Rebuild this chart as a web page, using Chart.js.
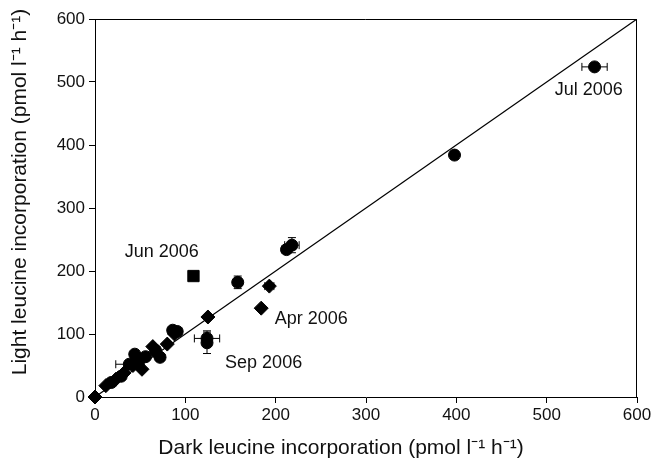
<!DOCTYPE html>
<html>
<head>
<meta charset="utf-8">
<script src="https://cdn.jsdelivr.net/npm/chart.js@4"></script>
<style>
  html, body { margin: 0; padding: 0; background: #fff; }
  #wrap { width: 654px; height: 465px; }
</style>
</head>
<body>
<div id="wrap"><canvas id="leucineChart" width="654" height="465"></canvas></div>
<script>
// Leucina: incorporación en luz vs oscuridad

const darkX  = [0, 12, 18, 23, 29, 32, 38, 42, 44, 46, 48, 52, 56, 64, 67, 70, 72, 80, 86, 88, 91, 109, 125, 124, 124, 158, 184, 193, 212, 218, 398, 553];
const lightY = [0, 18, 23, 28, 33, 38, 52, 50, 68, 56, 53, 44, 64, 80, 74, 67, 63, 84, 106, 100, 104, 192, 127, 93, 86, 182, 141, 176, 234, 241, 384, 524];
const xErr   = [0, 0, 0, 0, 0, 0, 15, 0, 0, 0, 0, 0, 0, 0, 0, 0, 0, 0, 0, 0, 5, 4, 0, 14, 0, 0, 0, 5, 5, 8, 4, 14];
const yErr   = [0, 0, 0, 0, 0, 0, 0, 0, 0, 0, 0, 0, 0, 0, 0, 0, 0, 0, 0, 0, 0, 4, 0, 12, 17, 10, 0, 0, 0, 12, 6, 6];
const shapes = ['rectRot', 'rectRot', 'circle', 'rectRot', 'circle', 'rectRot', 'circle', 'rectRot', 'circle', 'rectRot', 'circle', 'rectRot', 'circle', 'rectRot', 'circle', 'rectRot', 'circle', 'rectRot', 'circle', 'rectRot', 'circle', 'rect', 'rectRot', 'circle', 'circle', 'circle', 'rectRot', 'rectRot', 'circle', 'circle', 'circle', 'circle'];

const lineX = [0, 600];

const axisTicks = [0, 100, 200, 300, 400, 500, 600];

const notes = [
    { text: 'Jun 2006', x: 33, y: 230 },
    { text: 'Apr 2006', x: 199, y: 124 },
    { text: 'Sep 2006', x: 144, y: 54 },
    { text: 'Jul 2006', x: 509, y: 487 }
];

const FONT = '"Liberation Sans", Arial, Helvetica, sans-serif';

const points = darkX.map((x, i) => ({ x: x, y: lightY[i], xe: xErr[i], ye: yErr[i] }));

// barras de error + marco + textos
const extrasPlugin = {
    id: 'extras',
    beforeDatasetsDraw(chart) {
        const { ctx, scales: { x, y } } = chart;
        ctx.save();
        ctx.strokeStyle = '#000';
        ctx.lineWidth = 1;
        const cap = 4;
        points.forEach(p => {
            const px = x.getPixelForValue(p.x);
            const py = y.getPixelForValue(p.y);
            ctx.beginPath();
            if (p.xe > 0) {
                const l = x.getPixelForValue(p.x - p.xe);
                const r = x.getPixelForValue(p.x + p.xe);
                ctx.moveTo(l, py); ctx.lineTo(r, py);
                ctx.moveTo(l, py - cap); ctx.lineTo(l, py + cap);
                ctx.moveTo(r, py - cap); ctx.lineTo(r, py + cap);
            }
            if (p.ye > 0) {
                const t = y.getPixelForValue(p.y + p.ye);
                const b = y.getPixelForValue(p.y - p.ye);
                ctx.moveTo(px, t); ctx.lineTo(px, b);
                ctx.moveTo(px - cap, t); ctx.lineTo(px + cap, t);
                ctx.moveTo(px - cap, b); ctx.lineTo(px + cap, b);
            }
            ctx.stroke();
        });
        ctx.restore();
    },
    afterDraw(chart) {
        const { ctx, chartArea: a, scales: { x, y } } = chart;
        ctx.save();
        // marco superior y derecho
        ctx.strokeStyle = '#000';
        ctx.lineWidth = 1;
        ctx.beginPath();
        ctx.moveTo(a.left, a.top + 0.5);
        ctx.lineTo(a.right - 0.5, a.top + 0.5);
        ctx.lineTo(a.right - 0.5, a.bottom);
        ctx.stroke();

        // anotaciones
        ctx.fillStyle = '#111';
        ctx.font = '18px ' + FONT;
        ctx.textAlign = 'left';
        ctx.textBaseline = 'middle';
        notes.forEach(n => {
            ctx.fillText(n.text, x.getPixelForValue(n.x), y.getPixelForValue(n.y));
        });

        // títulos de ejes
        ctx.font = '21px ' + FONT;
        ctx.textAlign = 'center';
        ctx.fillText('Dark leucine incorporation (pmol l\u207B\u00B9 h\u207B\u00B9)', 341, 448);
        ctx.translate(20, 192);
        ctx.rotate(-Math.PI / 2);
        ctx.fillText('Light leucine incorporation (pmol l\u207B\u00B9 h\u207B\u00B9)', 0, 0);
        ctx.restore();
    }
};

new Chart(document.getElementById('leucineChart'), {
    type: 'scatter',
    data: {
        datasets: [
            {
                type: 'line',
                label: '1:1',
                data: lineX.map(v => ({ x: v, y: v })),
                borderColor: '#000',
                borderWidth: 1.2,
                pointRadius: 0,
                fill: false
            },
            {
                label: 'Leucine',
                data: points,
                clip: false,
                backgroundColor: '#000',
                borderColor: '#000',
                borderWidth: 1,
                pointStyle: shapes,
                pointRadius: shapes.map(s => s === 'rectRot' ? 7 : (s === 'rect' ? 8 : 6))
            }
        ]
    },
    options: {
        responsive: false,
        animation: false,
        layout: { padding: { top: 19, right: 17, left: 0, bottom: 0 } },
        plugins: {
            legend: { display: false },
            tooltip: { enabled: false }
        },
        scales: {
            x: {
                type: 'linear',
                min: 0,
                max: 600,
                afterBuildTicks: s => { s.ticks = axisTicks.map(v => ({ value: v })); },
                afterFit: s => { s.height = 68; },
                grid: { drawOnChartArea: false, tickLength: 6, color: '#000' },
                border: { color: '#000', width: 1 },
                ticks: { color: '#111', font: { family: FONT, size: 17 }, padding: 2 }
            },
            y: {
                type: 'linear',
                min: 0,
                max: 600,
                afterBuildTicks: s => { s.ticks = axisTicks.map(v => ({ value: v })); },
                afterFit: s => { s.width = 95; },
                grid: { drawOnChartArea: false, tickLength: 6, color: '#000' },
                border: { color: '#000', width: 1 },
                ticks: { color: '#111', font: { family: FONT, size: 17 }, padding: 4 }
            }
        }
    },
    plugins: [extrasPlugin]
});
</script>
</body>
</html>
